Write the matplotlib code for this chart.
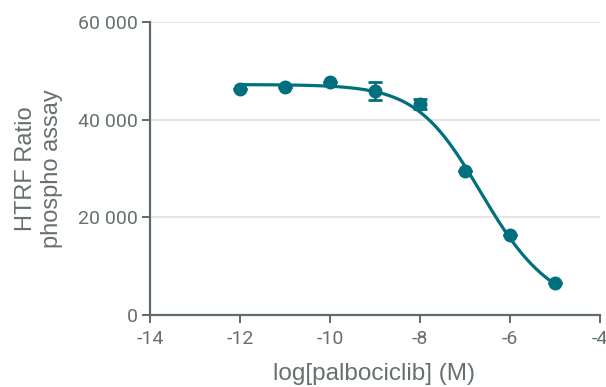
import numpy as np
import matplotlib.pyplot as plt

# measured points
log_conc = [-12, -11, -10, -9, -8, -7, -6, -5]
htrf_ratio = [46300, 46700, 47700, 45900, 43200, 29500, 16400, 6550]
htrf_err = [0, 0, 0, 1800, 1000, 0, 0, 0]

# 5PL fit parameters
fit_top = 47200
fit_bottom = 0
fit_log_ic50 = -6.9
fit_hill = 0.64
fit_asym = 0.7

teal = "#006F7E"
axis_grey = "#5E6A6C"
text_grey = "#66706F"

plt.rcParams['font.family'] = ['Roboto', 'DejaVu Sans']

fig = plt.figure(figsize=(6.06, 3.87), dpi=100)
ax = fig.add_axes([0.2475, 0.186, 0.742, 0.757])

# fitted curve
xs = np.linspace(min(log_conc), max(log_conc), 300)
ys = fit_bottom + (fit_top - fit_bottom) / (1 + 10 ** ((xs - fit_log_ic50) * fit_hill)) ** fit_asym
ax.plot(xs, ys, color=teal, lw=2.3, zorder=3)

ax.errorbar(log_conc, htrf_ratio, yerr=htrf_err, fmt='o', color=teal,
            ms=9, elinewidth=2, capsize=5, capthick=2, zorder=4)

ax.set_xlim(-14, -4)
ax.set_ylim(0, 60000)
ax.set_xticks([-14, -12, -10, -8, -6, -4])
ax.set_yticks([0, 20000, 40000, 60000])
ax.set_yticklabels(["0", "20 000", "40 000", "60 000"])
ax.set_xticklabels(["-14", "-12", "-10", "-8", "-6", "-4"])

ax.grid(axis='y', color='#E0E0E0', lw=1.2, zorder=0)
ax.set_axisbelow(True)

for side in ['top', 'right']:
    ax.spines[side].set_visible(False)
for side in ['left', 'bottom']:
    ax.spines[side].set_color(axis_grey)
    ax.spines[side].set_linewidth(1.6)

ax.tick_params(axis='both', colors=axis_grey, labelcolor=text_grey,
               length=6, width=1.4, labelsize=14)
ax.tick_params(axis='x', pad=5)
ax.tick_params(axis='y', pad=3)

label_font = ['Liberation Sans', 'DejaVu Sans']
fig.text(0.617, 0.034, "log[palbociclib] (M)", fontsize=17.5, color=text_grey,
         family=label_font, ha='center', va='center')
fig.text(0.064, 0.565, "HTRF Ratio\nphospho assay", fontsize=17, color=text_grey,
         family=label_font, ha='center', va='center', rotation=90,
         linespacing=1.25, multialignment='center')

fig.savefig("out.png", dpi=100)
